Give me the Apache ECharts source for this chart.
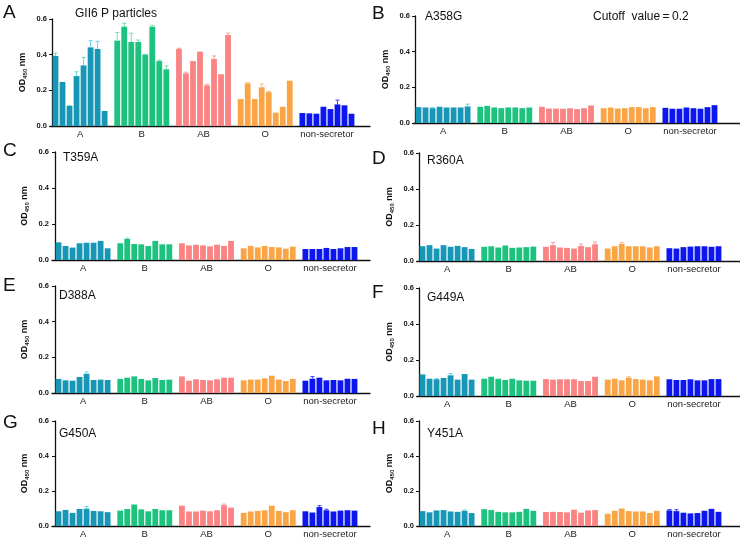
<!DOCTYPE html>
<html><head><meta charset="utf-8">
<script src="https://cdn.jsdelivr.net/npm/echarts@6/dist/echarts.min.js"></script>
<style>html,body{margin:0;padding:0;background:#fff}#c{width:740px;height:539px}</style>
</head><body><div id="c"></div>
<script>
// Blood-group categories on the x axis
const groups = ['A', 'B', 'AB', 'O', 'non-secretor'];
const yTicks = [0, 0.2, 0.4, 0.6];
const panelLetters = ['A', 'B', 'C', 'D', 'E', 'F', 'G', 'H'];
const panelTitles = ['GII6 P particles', 'A358G', 'T359A', 'R360A', 'D388A', 'G449A', 'G450A', 'Y451A'];
const cutoffText = 'Cutoff  value\u2009=\u20090.2';

// OD450 values, 8 saliva samples per group (A, B, AB, O, non-secretor)
const valsGII6 = [
  [0.393, 0.247, 0.112, 0.280, 0.340, 0.441, 0.432, 0.084],
  [0.479, 0.557, 0.471, 0.471, 0.400, 0.557, 0.364, 0.318],
  [0.432, 0.295, 0.364, 0.417, 0.228, 0.376, 0.290, 0.510],
  [0.151, 0.239, 0.151, 0.217, 0.190, 0.075, 0.108, 0.254],
  [0.073, 0.071, 0.069, 0.108, 0.095, 0.121, 0.116, 0.069]
];
const errGII6 = [
  [0.015, 0, 0.003, 0.024, 0.045, 0.037, 0.043, 0],
  [0.045, 0.019, 0.049, 0.011, 0.003, 0.007, 0.006, 0.019],
  [0.004, 0.007, 0, 0, 0.006, 0.017, 0, 0.011],
  [0, 0.004, 0, 0.019, 0.004, 0, 0, 0],
  [0, 0, 0, 0, 0, 0.024, 0, 0]
];
const valsA358G = [
  [0.089, 0.087, 0.083, 0.091, 0.087, 0.087, 0.087, 0.093],
  [0.091, 0.096, 0.087, 0.083, 0.087, 0.087, 0.083, 0.087],
  [0.091, 0.081, 0.081, 0.080, 0.083, 0.078, 0.083, 0.098],
  [0.083, 0.087, 0.081, 0.083, 0.089, 0.089, 0.083, 0.089],
  [0.085, 0.080, 0.080, 0.087, 0.083, 0.080, 0.089, 0.100]
];
const errA358G = [
  [0, 0, 0.004, 0, 0, 0, 0, 0.013],
  [0, 0, 0, 0, 0, 0, 0, 0],
  [0, 0, 0, 0, 0, 0, 0, 0],
  [0, 0, 0, 0, 0, 0, 0, 0],
  [0, 0, 0, 0, 0, 0, 0, 0]
];
const valsT359A = [
  [0.098, 0.078, 0.069, 0.093, 0.096, 0.096, 0.106, 0.065],
  [0.093, 0.117, 0.089, 0.087, 0.078, 0.106, 0.087, 0.087],
  [0.093, 0.081, 0.085, 0.081, 0.076, 0.085, 0.078, 0.106],
  [0.065, 0.078, 0.070, 0.078, 0.072, 0.070, 0.063, 0.074],
  [0.061, 0.061, 0.061, 0.067, 0.061, 0.065, 0.072, 0.072]
];
const errT359A = [
  [0, 0, 0, 0, 0, 0, 0, 0],
  [0, 0.005, 0, 0, 0, 0, 0, 0],
  [0, 0, 0, 0, 0, 0, 0, 0],
  [0, 0, 0, 0, 0, 0, 0, 0],
  [0, 0, 0, 0, 0, 0, 0, 0]
];
const valsR360A = [
  [0.082, 0.088, 0.069, 0.088, 0.079, 0.084, 0.077, 0.067],
  [0.079, 0.082, 0.075, 0.086, 0.073, 0.075, 0.077, 0.080],
  [0.079, 0.088, 0.075, 0.073, 0.069, 0.084, 0.077, 0.093],
  [0.069, 0.082, 0.095, 0.082, 0.082, 0.082, 0.075, 0.082],
  [0.071, 0.069, 0.077, 0.080, 0.082, 0.082, 0.079, 0.082]
];
const errR360A = [
  [0, 0, 0, 0, 0, 0, 0, 0],
  [0, 0, 0, 0, 0, 0, 0, 0],
  [0, 0.015, 0, 0, 0, 0.010, 0, 0.012],
  [0, 0, 0.008, 0, 0, 0, 0, 0],
  [0, 0, 0, 0, 0, 0, 0, 0]
];
const valsD388A = [
  [0.079, 0.071, 0.069, 0.090, 0.108, 0.073, 0.075, 0.073],
  [0.079, 0.086, 0.093, 0.079, 0.071, 0.084, 0.073, 0.075],
  [0.093, 0.069, 0.077, 0.073, 0.071, 0.077, 0.086, 0.086],
  [0.071, 0.075, 0.075, 0.082, 0.097, 0.075, 0.067, 0.079],
  [0.069, 0.080, 0.086, 0.071, 0.073, 0.071, 0.080, 0.079]
];
const errD388A = [
  [0, 0, 0, 0, 0.010, 0, 0, 0],
  [0, 0, 0, 0, 0, 0, 0, 0],
  [0, 0, 0, 0, 0, 0, 0, 0],
  [0, 0, 0, 0, 0, 0, 0, 0],
  [0, 0.012, 0, 0, 0, 0, 0, 0]
];
const valsG449A = [
  [0.120, 0.096, 0.093, 0.100, 0.115, 0.091, 0.122, 0.091],
  [0.096, 0.107, 0.096, 0.089, 0.096, 0.087, 0.085, 0.085],
  [0.094, 0.091, 0.093, 0.093, 0.093, 0.083, 0.083, 0.107],
  [0.091, 0.096, 0.087, 0.102, 0.094, 0.091, 0.087, 0.109],
  [0.093, 0.089, 0.089, 0.093, 0.087, 0.087, 0.094, 0.094]
];
const errG449A = [
  [0, 0, 0.004, 0, 0.010, 0, 0, 0],
  [0, 0, 0, 0, 0, 0, 0, 0],
  [0, 0, 0, 0, 0, 0, 0, 0],
  [0, 0, 0, 0.005, 0, 0, 0, 0],
  [0, 0, 0, 0, 0, 0, 0, 0]
];
const valsG450A = [
  [0.084, 0.092, 0.075, 0.097, 0.099, 0.086, 0.084, 0.079],
  [0.088, 0.097, 0.123, 0.095, 0.084, 0.097, 0.090, 0.090],
  [0.116, 0.083, 0.083, 0.088, 0.084, 0.090, 0.119, 0.105],
  [0.075, 0.083, 0.086, 0.090, 0.116, 0.086, 0.079, 0.090],
  [0.084, 0.077, 0.108, 0.090, 0.083, 0.088, 0.090, 0.088]
];
const errG450A = [
  [0, 0, 0, 0, 0.012, 0, 0, 0],
  [0, 0, 0, 0, 0, 0, 0, 0],
  [0, 0, 0, 0, 0, 0, 0.006, 0],
  [0, 0, 0, 0, 0, 0, 0, 0],
  [0, 0, 0.008, 0.006, 0, 0, 0, 0]
];
const valsY451A = [
  [0.085, 0.078, 0.089, 0.091, 0.083, 0.081, 0.087, 0.074],
  [0.096, 0.091, 0.081, 0.078, 0.078, 0.081, 0.098, 0.087],
  [0.080, 0.081, 0.080, 0.078, 0.093, 0.076, 0.089, 0.091],
  [0.070, 0.087, 0.100, 0.085, 0.083, 0.083, 0.074, 0.087],
  [0.089, 0.085, 0.076, 0.072, 0.074, 0.087, 0.098, 0.081]
];
const errY451A = [
  [0, 0, 0, 0, 0, 0, 0.005, 0],
  [0, 0, 0, 0, 0, 0, 0, 0],
  [0, 0, 0, 0, 0, 0, 0, 0],
  [0, 0, 0, 0, 0, 0, 0, 0],
  [0.005, 0.008, 0, 0, 0, 0, 0, 0]
];

const panelVals = [valsGII6, valsA358G, valsT359A, valsR360A, valsD388A, valsG449A, valsG450A, valsY451A];
const panelErrs = [errGII6, errA358G, errT359A, errR360A, errD388A, errG449A, errG450A, errY451A];

// ---- styling / layout ----
const colors = ['#1797b5', '#1cc27e', '#fa8484', '#f9a545', '#0c16ee'];
const errColors = ['#6fcfe0', '#74ddb4', '#f5a0a0', '#f7bf84', '#3a43f0'];
const FONT = 'Liberation Sans, Arial, sans-serif';
const PITCH = 303 / 43.2;       // px per bar slot
const GROUP_STEP = 8.8;         // slots per group (8 bars + gap)
// [left, top, width, height, first-bar offset px]
const grids = [
  [50, 19, 320, 107, 2],
  [413, 16, 327, 107, 2],
  [52, 152, 318, 108, 3],
  [417, 153, 323, 108, 2],
  [52, 286, 318, 107, 3],
  [417, 288, 323, 108, 2],
  [52, 421, 318, 108, 3],
  [417, 421, 323, 108, 2]
];
const letterPos = [[3, 3], [372, 4], [3, 141], [372, 149], [3, 276], [372, 283], [3, 413], [372, 419]];
const titlePos = [[75, 8], [425, 11], [63, 152], [427, 155], [59, 290], [427, 292], [59, 428], [427, 428]];

const barX = (g, i) => g * GROUP_STEP + i + 0.5;
const groupCenters = groups.map((_, g) => g * GROUP_STEP + 4);

const option = { animation: false, grid: [], xAxis: [], yAxis: [], series: [], graphic: [] };

grids.forEach((gr, k) => {
  const [left, top, width, height, off] = gr;
  option.grid.push({ left, top, width, height, containLabel: false });
  const xmin = -off / PITCH;
  option.xAxis.push({
    type: 'value', gridIndex: k, min: xmin, max: xmin + width / PITCH,
    splitLine: { show: false },
    axisLine: { show: true, onZero: false, lineStyle: { color: '#111', width: 1.3 } },
    axisTick: { show: false },
    axisLabel: {
      show: true, customValues: groupCenters, margin: 3,
      fontFamily: FONT, fontSize: 9.5, color: '#222',
      formatter: v => groups[Math.round((v - 4) / GROUP_STEP)]
    }
  });
  option.yAxis.push({
    type: 'value', gridIndex: k, min: 0, max: 0.6, interval: 0.2,
    splitLine: { show: false },
    axisLine: { show: true, lineStyle: { color: '#111', width: 1.3 } },
    axisTick: { show: true, length: 3, lineStyle: { color: '#111', width: 1 } },
    axisLabel: { fontFamily: FONT, fontSize: 7.5, fontWeight: 'bold', color: '#111', margin: 3,
      formatter: v => v.toFixed(1) },
    name: 'OD{s|450} nm', nameLocation: 'middle', nameGap: 22, nameRotate: 90,
    nameTextStyle: { fontFamily: FONT, fontSize: 9, fontWeight: 'bold', color: '#111',
      rich: { s: { fontFamily: FONT, fontSize: 6, fontWeight: 'bold', color: '#111', verticalAlign: 'bottom', padding: [4, 0, 0, 0] } } }
  });

  const vals = panelVals[k];
  const errs = panelErrs[k];
  const barData = [];
  const errData = [];
  vals.forEach((arr, g) => arr.forEach((v, i) => {
    barData.push({ value: [barX(g, i), v], itemStyle: { color: colors[g] } });
    const e = errs[g][i];
    if (e > 0) errData.push([barX(g, i), v, v + e, g]);
  }));
  option.series.push({
    type: 'bar', xAxisIndex: k, yAxisIndex: k, data: barData,
    barWidth: PITCH - 1.2, silent: true
  });
  option.series.push({
    type: 'custom', xAxisIndex: k, yAxisIndex: k, data: errData, silent: true, z: 3,
    renderItem: (params, api) => {
      const x = api.value(0), lo = api.coord([x, api.value(1)]), hi = api.coord([x, api.value(2)]);
      const c = errColors[api.value(3)];
      return { type: 'group', children: [
        { type: 'line', shape: { x1: lo[0], y1: lo[1], x2: hi[0], y2: hi[1] }, style: { stroke: c, lineWidth: 1 } },
        { type: 'line', shape: { x1: hi[0] - 2, y1: hi[1], x2: hi[0] + 2, y2: hi[1] }, style: { stroke: c, lineWidth: 1 } }
      ] };
    }
  });

  option.graphic.push({ type: 'text', left: letterPos[k][0], top: letterPos[k][1],
    style: { text: panelLetters[k], fontFamily: FONT, fontSize: 19, fill: '#111' } });
  option.graphic.push({ type: 'text', left: titlePos[k][0], top: titlePos[k][1],
    style: { text: panelTitles[k], fontFamily: FONT, fontSize: 12, fill: '#111' } });
});
option.graphic.push({ type: 'text', left: 593, top: 11,
  style: { text: cutoffText, fontFamily: FONT, fontSize: 12, fill: '#111' } });

const chart = echarts.init(document.getElementById('c'), null, { renderer: 'canvas' });
chart.setOption(option);
</script>
</body></html>
